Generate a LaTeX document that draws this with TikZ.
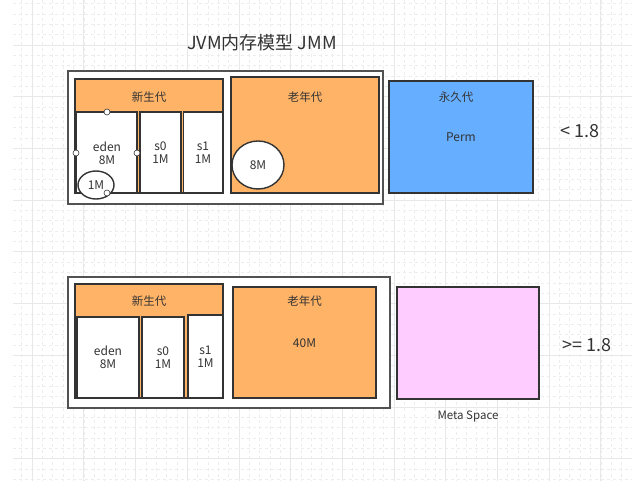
\documentclass[tikz,border=0pt]{standalone}
\usepackage{fontspec}
\setmainfont{Noto Sans CJK SC}
\usetikzlibrary{positioning,shapes.geometric}
\definecolor{orng}{HTML}{FFB366}
\definecolor{permblue}{HTML}{66AEFF}
\definecolor{metapink}{HTML}{FFCCFF}
\definecolor{ink}{HTML}{333333}

\begin{document}
\begin{tikzpicture}[x=1pt,y=-1pt,
  box/.style={draw=ink,line width=1.4pt,inner sep=0pt},
  frame/.style={draw=ink!85,line width=1.4pt,fill=white,inner sep=0pt},
  area/.style 2 args={minimum width=#1pt,minimum height=#2pt},
  txt/.style={text=ink,font=\fontsize{12}{13}\selectfont,align=center},
  head/.style={text=ink,font=\fontsize{11.5}{13}\selectfont},
  big/.style={text=ink,font=\fontsize{18}{20}\selectfont},
  grip/.style={circle,draw=ink,fill=white,inner sep=0pt,minimum size=6pt,line width=0.6pt}]
\useasboundingbox[fill=white](0,0)rectangle(632,481);
% background grid
\foreach \k in {-1,...,59}{\draw[black!7,dash pattern=on 3pt off 3pt,line width=0.6pt](32.1+\k*10.34,0)--(32.1+\k*10.34,481);}
\foreach \k in {-4,...,43}{\draw[black!7,dash pattern=on 3pt off 3pt,line width=0.6pt](13,45+\k*10.34)--(632,45+\k*10.34);}
\foreach \k in {0,...,11}{\draw[black!9,line width=0.7pt](32.1+\k*51.7,0)--(32.1+\k*51.7,481);}
\foreach \k in {0,...,8}{\draw[black!9,line width=0.7pt](13,45+\k*51.7)--(632,45+\k*51.7);}
% before 1.8
\node[big](title)at(262,43){JVM内存模型 JMM};
\node[frame,area={315}{133}](outerA)at(225.5,137.5){};
\node[box,fill=orng,area={148}{114}](youngA)at(149,136){};
\node[head](youngAlbl)at(149,97){新生代};
\node[box,fill=white,area={61}{81}](edenA)at(106.5,152.5){};
\node[txt](edenAlbl)at(107,153){eden\\8M};
\node[box,fill=white,area={41}{81}](s0A)at(160.5,152.5){};
\node[txt]at(s0A){s0\\1M};
\node[box,fill=white,area={39}{81}](s1A)at(203,152.5){};
\node[txt]at(s1A){s1\\1M};
\node[box,fill=white,ellipse,area={36}{28}](oneM)at(96,185){};
\node[txt]at(oneM){1M};
\foreach \p in {(107,112),(76,153),(137,153),(107,193)}{\node[grip]at\p{};}
\node[box,fill=orng,area={148}{116}](oldA)at(305,135){};
\node[head](oldAlbl)at(305,97){老年代};
\node[box,fill=white,ellipse,area={52}{48}](eightM)at(258,165){};
\node[txt]at(eightM){8M};
\node[box,fill=permblue,area={144}{112}](perm)at(461,137){};
\node[head](permlbl)at(456,97){永久代};
\node[txt]at(461,137){Perm};
\node[big](verA)at(580,131){< 1.8};
% 1.8 and later
\node[frame,area={322}{131}](outerB)at(229,342.5){};
\node[box,fill=orng,area={148}{114}](youngB)at(149,341){};
\node[head](youngBlbl)at(149,301){新生代};
\node[box,fill=white,area={62}{81}](edenB)at(108,357.5){};
\node[txt]at(edenB){eden\\8M};
\node[box,fill=white,area={42}{81}](s0B)at(163,357.5){};
\node[txt]at(s0B){s0\\1M};
\node[box,fill=white,area={35}{83}](s1B)at(205.5,356.5){};
\node[txt]at(s1B){s1\\1M};
\node[box,fill=orng,area={143}{111}](oldB)at(304.5,342.5){};
\node[head](oldBlbl)at(304.5,301){老年代};
\node[txt]at(304.5,343){40M};
\node[box,fill=metapink,area={142}{112}](meta)at(468,343){};
\node[head,below=8pt of meta](metalbl){Meta Space};
\node[big](verB)at(587,345){>= 1.8};
\end{tikzpicture}
\end{document}
